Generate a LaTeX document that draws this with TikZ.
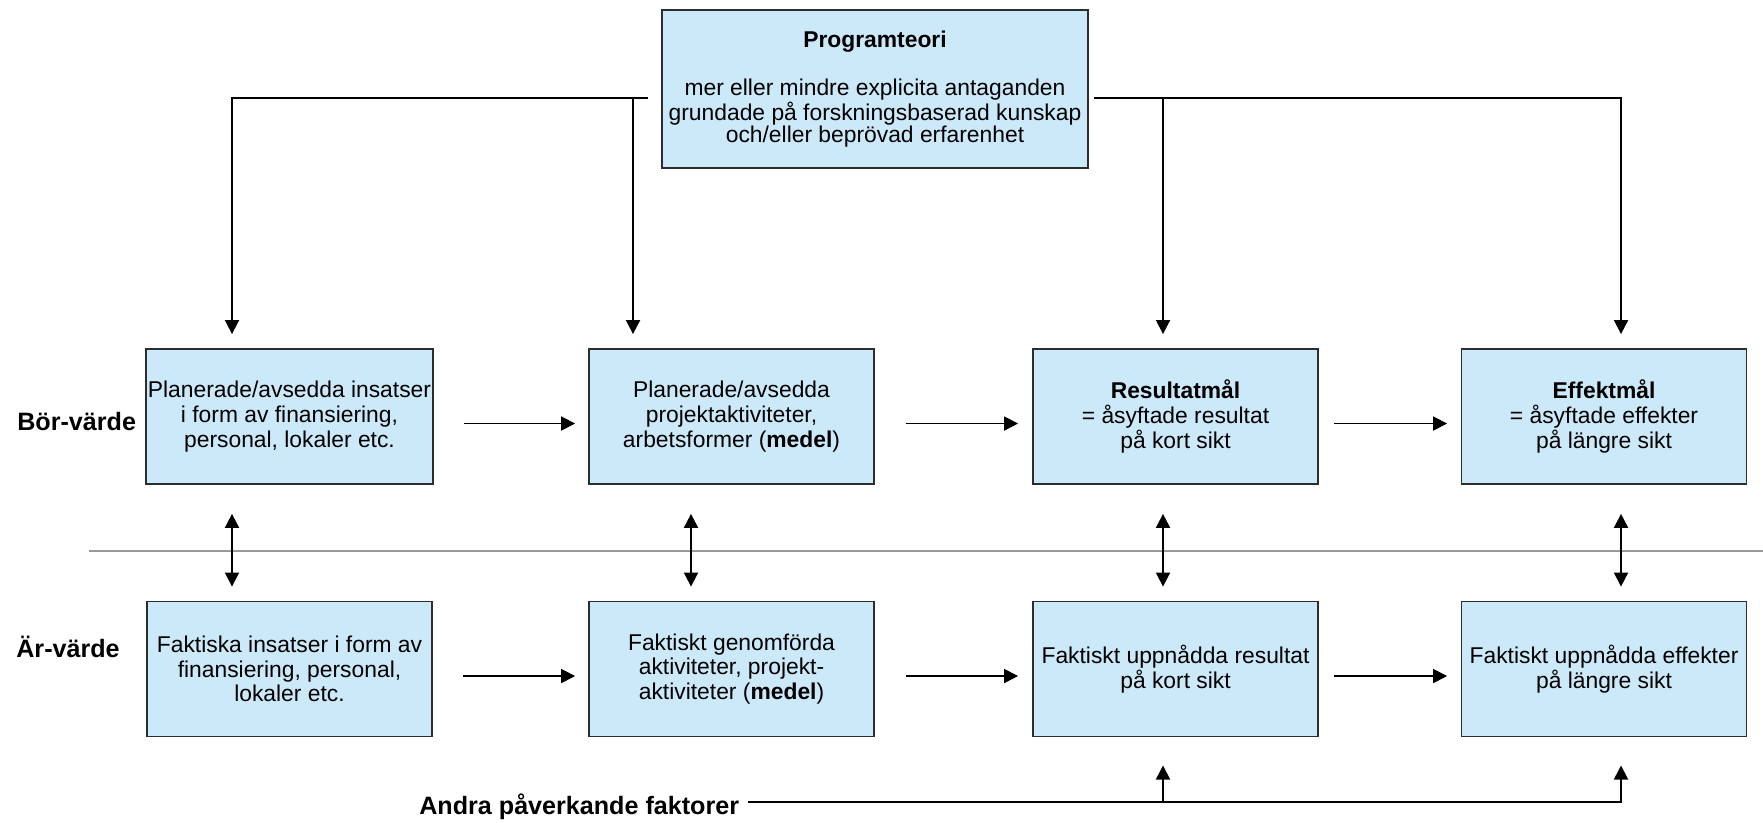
\documentclass[tikz,border=0pt]{standalone}
\usepackage{fontspec}
\setmainfont{Liberation Sans}
\usetikzlibrary{arrows.meta}
\definecolor{boxblue}{RGB}{204,233,250}
\definecolor{boxline}{RGB}{45,45,45}

\begin{document}
\begin{tikzpicture}[x=0.02cm, y=-0.02cm,
    box/.style={shape=rectangle, draw=boxline, fill=boxblue, line width=1pt, minimum width=5.7cm, minimum height=2.7cm, align=center, inner sep=1pt, font=\fontsize{13}{14}\selectfont},
    lbl/.style={inner sep=0pt, font=\fontsize{14.3}{16}\selectfont\bfseries},
    arr/.style={line width=1pt, -{Triangle[length=8pt,width=8pt]}},
    darr/.style={line width=1pt, {Triangle[length=8pt,width=8pt]}-{Triangle[length=8pt,width=8pt]}}]
  \useasboundingbox (0,0) rectangle (1763,822);
  % programteori
  \node[box, minimum width=8.52cm, minimum height=3.16cm, font=\fontsize{13}{12.5}\selectfont] (prog) at (875,89)
    {\textbf{Programteori}\\[15pt] mer eller mindre explicita antaganden\\ grundade på forskningsbaserad kunskap\\ och/eller beprövad erfarenhet};
  % bör-värde
  \node[box] (b1) at (289.5,416.5) {Planerade/avsedda insatser\\ i form av finansiering,\\ personal, lokaler etc.};
  \node[box] (b2) at (731.5,416.5) {Planerade/avsedda\\ projektaktiviteter,\\ arbetsformer (\textbf{medel})};
  \node[box] (b3) at (1175.5,416.5) {\textbf{Resultatmål}\\ = åsyftade resultat\\ på kort sikt};
  \node[box] (b4) at (1604,416.5) {\textbf{Effektmål}\\ = åsyftade effekter\\ på längre sikt};
  % är-värde
  \node[box] (f1) at (289.5,669) {Faktiska insatser i form av\\ finansiering, personal,\\ lokaler etc.};
  \node[box] (f2) at (731.5,669) {Faktiskt genomförda\\ aktiviteter, projekt-\\ aktiviteter (\textbf{medel})};
  \node[box] (f3) at (1175.5,669) {Faktiskt uppnådda resultat\\ på kort sikt};
  \node[box] (f4) at (1604,669) {Faktiskt uppnådda effekter\\ på längre sikt};
  \node[lbl, anchor=west] (bor) at (17,422) {Bör-värde};
  \node[lbl, anchor=west] (ar) at (16,647) {Är-värde};
  \node[lbl, anchor=west] (andra) at (419,807) {Andra påverkande faktorer};
  \draw[draw=gray!80, line width=0.8pt] (89,551) -- (1763,551);
  \coordinate (tl) at (648,98);
  \coordinate (tr) at (1094,98);
  \coordinate (k1) at (232,98);
  \coordinate (k2) at (633,98);
  \coordinate (k3) at (1163,98);
  \coordinate (k4) at (1621,98);
  \coordinate (d2) at (691,551);
  \coordinate (a0) at ([xshift=5pt,yshift=3pt]andra.east);
  % från programteorin
  \draw[arr, shorten >=8pt] (tl) -| (k1 |- b1.north);
  \draw[arr, shorten >=8pt] (k2) -- (k2 |- b2.north);
  \draw[arr, shorten >=8pt] (tr) -| (k4 |- b4.north);
  \draw[arr, shorten >=8pt] (k3) -- (k3 |- b3.north);
  % kedjan
  \draw[arr, shorten <=17pt, shorten >=7.4pt] ([yshift=-4pt]b1.east) -- ([yshift=-4pt]b2.west);
  \draw[arr, shorten <=17.5pt, shorten >=8pt] ([yshift=-4pt]b2.east) -- ([yshift=-4pt]b3.west);
  \draw[arr, shorten <=8.5pt, shorten >=7.7pt] ([yshift=-4pt]b3.east) -- ([yshift=-4pt]b4.west);
  \draw[arr, shorten <=17pt, shorten >=7.4pt] ([yshift=-4pt]f1.east) -- ([yshift=-4pt]f2.west);
  \draw[arr, shorten <=17.5pt, shorten >=8pt] ([yshift=-4pt]f2.east) -- ([yshift=-4pt]f3.west);
  \draw[arr, shorten <=8.5pt, shorten >=7.7pt] ([yshift=-4pt]f3.east) -- ([yshift=-4pt]f4.west);
  % bör mot är
  \draw[darr, shorten <=16.5pt, shorten >=8pt] (k1 |- b1.south) -- (k1 |- f1.north);
  \draw[darr, shorten <=16.5pt, shorten >=8pt] (d2 |- b2.south) -- (d2 |- f2.north);
  \draw[darr, shorten <=16.5pt, shorten >=8pt] (k3 |- b3.south) -- (k3 |- f3.north);
  \draw[darr, shorten <=16.5pt, shorten >=8pt] (k4 |- b4.south) -- (k4 |- f4.north);
  % andra faktorer
  \draw[arr, shorten >=16pt] (a0) -| (k4 |- f4.south);
  \draw[arr, shorten >=16pt] (a0 -| k3) -- (k3 |- f3.south);
\end{tikzpicture}
\end{document}
